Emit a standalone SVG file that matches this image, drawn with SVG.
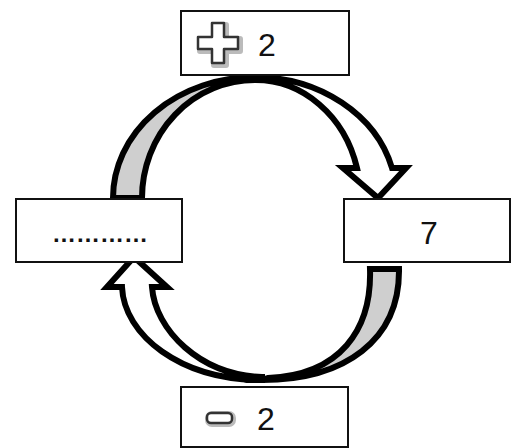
<svg xmlns="http://www.w3.org/2000/svg" width="527" height="448" viewBox="0 0 527 448">
<style>
.box{fill:#fff;stroke:#111;stroke-width:2}
.band{stroke:#000;stroke-width:6;stroke-linejoin:miter;stroke-miterlimit:10}
.back{fill:#cfcfcf}
.front{fill:#fff}
.num{font-family:"Liberation Sans",Arial,sans-serif;font-size:32px;fill:#111}
.dots{font-family:"Liberation Sans",Arial,sans-serif;font-size:24px;font-weight:bold;fill:#111}
.icon{fill:#fff;stroke:#333;stroke-width:2.5;stroke-linejoin:round}
.shadow{fill:none;stroke:#bbb;stroke-width:6;stroke-linejoin:round}
</style>
<rect width="527" height="448" fill="#fff"/>
<g id="connectors">
  <g id="arrow-top">
    <path class="band back" d="M113,198 A142,121 0 0 1 255,77 L255,80 A113,118 0 0 0 142,198 Z"/>
    <path class="band front" d="M255,77 A142,121 0 0 1 392,168 L406,168 L378,198 L343,168 L357,168 A105,118 0 0 0 255,80 Z"/>
  </g>
  <g id="arrow-bottom">
    <path class="band back" d="M399,269 C400,340 345,380 262,380 L268,378 C340,375 372,330 370,269 Z"/>
    <path class="band front" d="M122,287 L107,287 L134,257 L167,287 L152,287 C155,330 200,375 262,377 L262,380 C180,380 124,335 122,287 Z"/>
  </g>
</g>
<g id="node-top">
  <rect class="box" x="181" y="11" width="168" height="64"/>
  <path class="shadow" d="M213,24 h12 v14 h14 v12 h-14 v14 h-12 v-14 h-14 v-12 h14 z" transform="translate(1,1)"/>
  <path class="icon" d="M212,23 h12 v14 h14 v12 h-14 v14 h-12 v-14 h-14 v-12 h14 z"/>
  <text class="num" x="258" y="56">2</text>
</g>
<g id="node-left">
  <rect class="box" x="16" y="199" width="166" height="63"/>
  <text class="dots" x="52" y="242">…………</text>
</g>
<g id="node-right">
  <rect class="box" x="344" y="199" width="166" height="63"/>
  <text class="num" x="420" y="244">7</text>
</g>
<g id="node-bottom">
  <rect class="box" x="181" y="387" width="167" height="60"/>
  <rect class="shadow" x="208" y="414" width="25" height="10" rx="4"/>
  <rect class="icon" x="207" y="413" width="25" height="10" rx="4"/>
  <text class="num" x="257" y="430">2</text>
</g>
</svg>
